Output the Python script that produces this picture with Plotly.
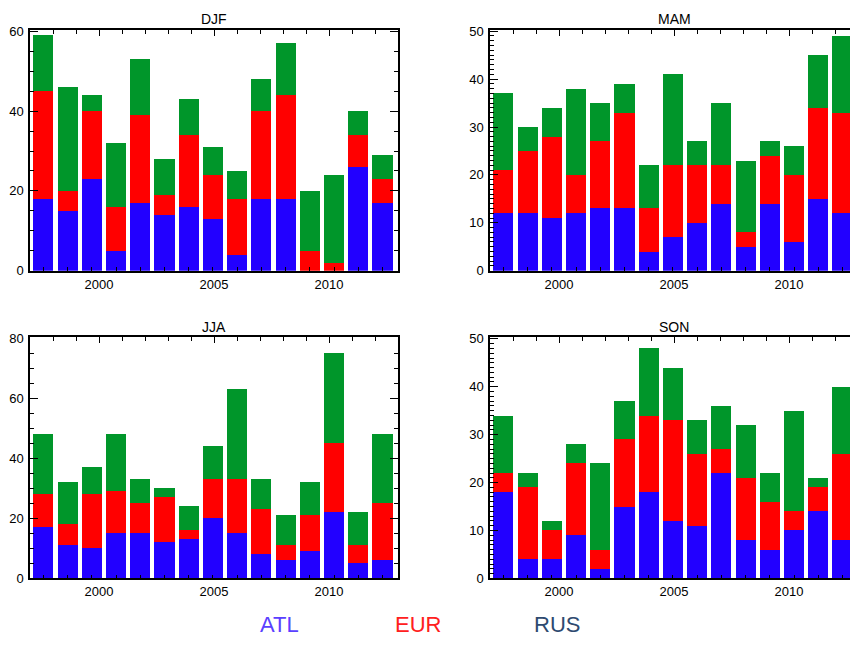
import plotly.graph_objects as go

# Seasonal counts per source region, one bar per year
years = [1998, 1999, 2000, 2001, 2002, 2003, 2004, 2005,
         2006, 2007, 2008, 2009, 2010, 2011, 2012]

djf_atl = [18, 15, 23, 5, 17, 14, 16, 13, 4, 18, 18, 0, 0, 26, 17]
djf_eur = [27, 5, 17, 11, 22, 5, 18, 11, 14, 22, 26, 5, 2, 8, 6]
djf_rus = [14, 26, 4, 16, 14, 9, 9, 7, 7, 8, 13, 15, 22, 6, 6]

mam_atl = [12, 12, 11, 12, 13, 13, 4, 7, 10, 14, 5, 14, 6, 15, 12]
mam_eur = [9, 13, 17, 8, 14, 20, 9, 15, 12, 8, 3, 10, 14, 19, 21]
mam_rus = [16, 5, 6, 18, 8, 6, 9, 19, 5, 13, 15, 3, 6, 11, 16]

jja_atl = [17, 11, 10, 15, 15, 12, 13, 20, 15, 8, 6, 9, 22, 5, 6]
jja_eur = [11, 7, 18, 14, 10, 15, 3, 13, 18, 15, 5, 12, 23, 6, 19]
jja_rus = [20, 14, 9, 19, 8, 3, 8, 11, 30, 10, 10, 11, 30, 11, 23]

son_atl = [18, 4, 4, 9, 2, 15, 18, 12, 11, 22, 8, 6, 10, 14, 8]
son_eur = [4, 15, 6, 15, 4, 14, 16, 21, 15, 5, 13, 10, 4, 5, 18]
son_rus = [12, 3, 2, 4, 18, 8, 14, 11, 7, 9, 11, 6, 21, 2, 14]

seasons = ["DJF", "MAM", "JJA", "SON"]
year_labels = [2000, 2005, 2010]
legend_names = ["ATL", "EUR", "RUS"]

series = {
    "DJF": (djf_atl, djf_eur, djf_rus),
    "MAM": (mam_atl, mam_eur, mam_rus),
    "JJA": (jja_atl, jja_eur, jja_rus),
    "SON": (son_atl, son_eur, son_rus),
}

W, H = 850, 645
bar_colors = ["#2200FF", "#FF0000", "#00962A"]
legend_colors = ["#5A40FF", "#FF2020", "#2E4A70"]
FONT = "Liberation Sans, Arial, sans-serif"

# panel layout in pixels: (left, right, top, bottom)
panels = [
    (30, 398, 23.3, 270),
    (490, 858, 23.3, 270),
    (30, 398, 338.3, 585),
    (490, 858, 338.3, 585),
]
y_top = [60.4, 50.3, 80.2, 50.3]
y_major = [20, 10, 20, 10]
y_minor = [5, 1, 5, 1]

BAR_PX = 24.23      # pixels per bar slot
YEAR_PX = 23.0      # pixels per year on the labelled axis
BAR_START = 1997.45
YEAR_START = 1997

fig = go.Figure()
layout = dict(
    width=W, height=H,
    margin=dict(l=0, r=0, t=0, b=0),
    paper_bgcolor="white", plot_bgcolor="white",
    barmode="stack", bargap=0.17,
    showlegend=False,
    font=dict(family=FONT, size=13, color="black"),
    annotations=[],
)

for p, season in enumerate(seasons):
    left, right, top, bottom = panels[p]
    vis_right = min(right, W)
    width_px = vis_right - left
    dom_x = [left / W, vis_right / W]
    dom_y = [1 - bottom / H, 1 - top / H]
    clipped = right > W

    yi = p + 1
    xb, xl, xt = p + 1, p + 5, p + 9
    yname = "y" if yi == 1 else f"y{yi}"
    ykey = "yaxis" if yi == 1 else f"yaxis{yi}"
    xbname = "x" if xb == 1 else f"x{xb}"
    xbkey = "xaxis" if xb == 1 else f"xaxis{xb}"

    for vals, color, name in zip(series[season], bar_colors, legend_names):
        fig.add_trace(go.Bar(
            x=years, y=vals, name=name,
            marker=dict(color=color, line=dict(width=0)),
            xaxis=xbname, yaxis=yname, hoverinfo="skip",
        ))
    # empty traces so the label/tick axes get drawn
    for xa in (xl, xt):
        fig.add_trace(go.Scatter(x=[], y=[], xaxis=f"x{xa}", yaxis=yname,
                                 showlegend=False, hoverinfo="skip"))

    # bar axis: bottom frame with ticks at every bar
    layout[xbkey] = dict(
        domain=dom_x, anchor=yname,
        range=[BAR_START, BAR_START + width_px / BAR_PX],
        tickmode="array", tickvals=years, showticklabels=False,
        ticks="inside", ticklen=4, tickwidth=1, tickcolor="black",
        showline=True, linecolor="black", linewidth=1.5,
        showgrid=False, zeroline=False, layer="above traces",
        fixedrange=True,
    )
    year_range = [YEAR_START, YEAR_START + width_px / YEAR_PX]
    # year labels along the bottom
    layout[f"xaxis{xl}"] = dict(
        overlaying=xbname, anchor=yname, side="bottom",
        range=year_range,
        tickmode="array", tickvals=year_labels,
        ticktext=[str(v) for v in year_labels],
        ticks="", showline=False, showgrid=False, zeroline=False,
        tickfont=dict(size=13), ticklabelstandoff=4,
        fixedrange=True,
    )
    # top frame with yearly ticks
    layout[f"xaxis{xt}"] = dict(
        overlaying=xbname, anchor=yname, side="top",
        range=year_range,
        tickmode="linear", tick0=2000, dtick=5,
        ticks="inside", ticklen=6, tickwidth=1, tickcolor="black",
        minor=dict(dtick=1, ticks="inside", ticklen=4, tickwidth=1,
                   tickcolor="black", showgrid=False),
        showticklabels=False,
        showline=True, linecolor="black", linewidth=1.5,
        showgrid=False, zeroline=False, layer="above traces",
        fixedrange=True,
    )
    layout[ykey] = dict(
        domain=dom_y, anchor=xbname,
        range=[0, y_top[p]],
        tickmode="linear", tick0=0, dtick=y_major[p],
        ticks="inside", ticklen=8, tickwidth=1, tickcolor="black",
        minor=dict(dtick=y_minor[p], ticks="inside", ticklen=4, tickwidth=1,
                   tickcolor="black", showgrid=False),
        showline=True, linecolor="black", linewidth=1.5,
        mirror=False if clipped else "ticks",
        showgrid=False, zeroline=False, layer="above traces",
        tickfont=dict(size=13), ticklabelstandoff=2,
        fixedrange=True,
    )
    layout["annotations"].append(dict(
        text=season, xref="paper", yref="paper",
        x=(left + right) / 2 / W, y=1 - (top - 11) / H,
        xanchor="center", yanchor="middle", showarrow=False,
        font=dict(size=14, family=FONT, color="black"),
    ))

legend_x = [279, 418, 557]
for name, color, lx in zip(legend_names, legend_colors, legend_x):
    layout["annotations"].append(dict(
        text=name, xref="paper", yref="paper",
        x=lx / W, y=1 - 632 / H, xanchor="center", yanchor="middle",
        showarrow=False, font=dict(size=22, family=FONT, color=color),
    ))

fig.update_layout(**layout)
fig.write_html("out.html")
